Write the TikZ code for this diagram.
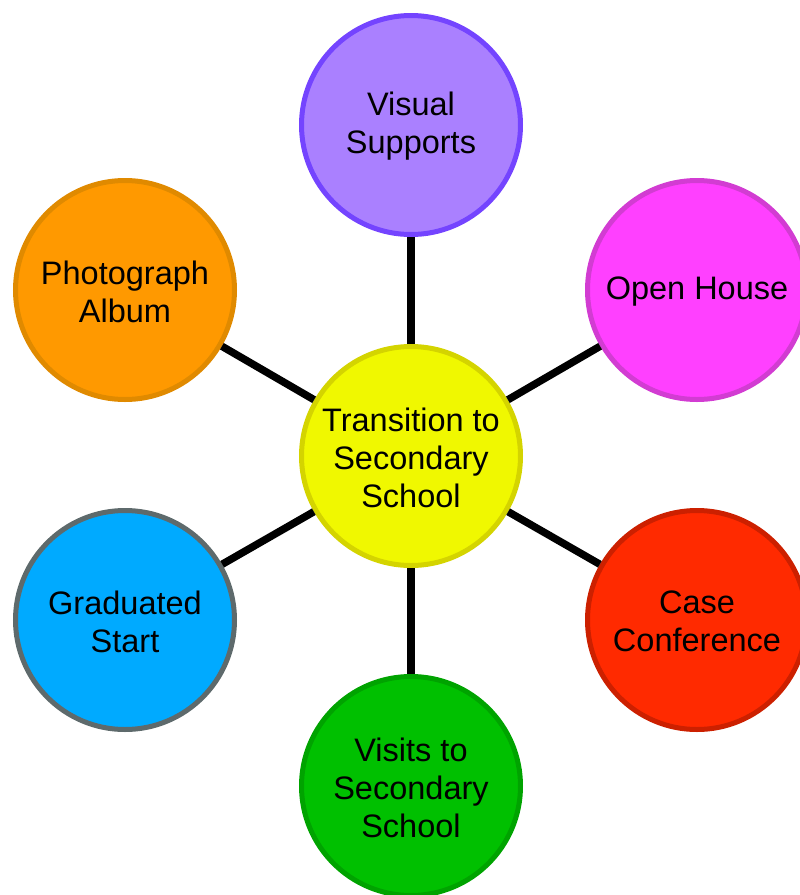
\documentclass[tikz,border=0pt]{standalone}
\usepackage{fontspec}
\setmainfont{Liberation Sans}
\definecolor{purpF}{HTML}{AA80FF}\definecolor{purpD}{HTML}{7444FF}
\definecolor{magF}{HTML}{FF40FF}\definecolor{magD}{HTML}{D23CD2}
\definecolor{bluF}{HTML}{00AAFF}\definecolor{bluD}{HTML}{5E6A6C}
\definecolor{grnF}{HTML}{00C000}\definecolor{grnD}{HTML}{00A300}
\definecolor{yelF}{HTML}{F0F800}\definecolor{yelD}{HTML}{D4D400}
\definecolor{orgF}{HTML}{FF9900}\definecolor{orgD}{HTML}{E08A00}
\definecolor{redF}{HTML}{FF2A00}\definecolor{redD}{HTML}{CC2000}
\tikzset{
  bub/.style={circle, minimum size=219pt, inner sep=0pt, line width=5pt},
  btxt/.style={label={[align=center, font=\fontsize{32.5}{38}\selectfont, text=black, yshift=-1.5pt]center:#1}},
  link/.style={line width=7.5pt, black}
}
\begin{document}
\begin{tikzpicture}[x=1pt,y=-1pt]
\useasboundingbox (0,0) rectangle (800,895);
\node[bub, fill=yelF, draw=yelD, btxt={Transition to\\Secondary\\School}] (c) at (411,456) {};
\node[bub, fill=purpF, draw=purpD, btxt={Visual\\Supports}] (vs) at (411,125) {};
\node[bub, fill=magF, draw=magD, btxt={Open House}] (oh) at (697,290) {};
\node[bub, fill=redF, draw=redD, btxt={Case\\Conference}] (cc) at (697,620) {};
\node[bub, fill=grnF, draw=grnD, btxt={Visits to\\Secondary\\School}] (vt) at (411,786) {};
\node[bub, fill=bluF, draw=bluD, btxt={Graduated\\Start}] (gs) at (125,620) {};
\node[bub, fill=orgF, draw=orgD, btxt={Photograph\\Album}] (pa) at (125,290) {};
\draw[link] (c) -- (vs);
\draw[link] (c) -- (oh);
\draw[link] (c) -- (cc);
\draw[link] (c) -- (vt);
\draw[link] (c) -- (gs);
\draw[link] (c) -- (pa);
\end{tikzpicture}
\end{document}
